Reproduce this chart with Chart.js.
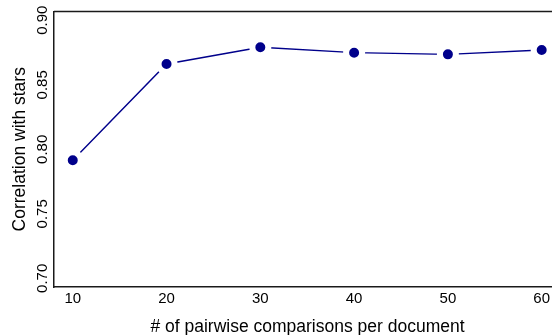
<!DOCTYPE html>
<html>
<head>
<meta charset="utf-8">
<script src="https://cdn.jsdelivr.net/npm/chart.js@4/dist/chart.umd.min.js"></script>
<style>
  html, body { margin: 0; padding: 0; background: #fff; }
  #wrap { width: 552px; height: 335px; position: relative; }
</style>
</head>
<body>
<div id="wrap"><canvas id="c" width="552" height="335"></canvas></div>
<script>
// Comparisons per document vs. correlation of the estimate with star ratings
const comparisons = [10, 20, 30, 40, 50, 60];
const correlation = [0.7915, 0.8661, 0.8791, 0.8749, 0.8736, 0.8770];
const xTickValues = [10, 20, 30, 40, 50, 60];
const yTickValues = [0.70, 0.75, 0.80, 0.85, 0.90];
const xTitle = '# of pairwise comparisons per document';
const yTitle = 'Correlation with stars';

const FONT = "'Liberation Sans', Arial, Helvetica, sans-serif";
const NAVY = '#00008b';
const AXIS = '#1a1a1a';

// Tick labels (y rotated), axis titles and the top frame line
const decorations = {
  id: 'decorations',
  afterDraw(chart) {
    const { ctx, chartArea: a, scales } = chart;
    const x = scales.x, y = scales.y;
    ctx.save();
    // top frame line
    ctx.strokeStyle = AXIS;
    ctx.lineWidth = 1.5;
    ctx.beginPath();
    ctx.moveTo(a.left, a.top);
    ctx.lineTo(chart.width, a.top);
    ctx.stroke();

    ctx.fillStyle = '#000';
    ctx.textAlign = 'center';
    ctx.textBaseline = 'middle';
    ctx.font = '15px ' + FONT;
    // y tick labels, reading bottom to top
    yTickValues.forEach(v => {
      const py = y.getPixelForValue(v);
      ctx.save();
      ctx.translate(a.left - 11, py);
      ctx.rotate(-Math.PI / 2);
      ctx.fillText(v.toFixed(2), 0, 0);
      ctx.restore();
    });
    // x tick labels
    xTickValues.forEach(v => {
      ctx.fillText(String(v), x.getPixelForValue(v), a.bottom + 12);
    });
    // y title
    ctx.font = '17.5px ' + FONT;
    ctx.save();
    ctx.translate(20, (a.top + a.bottom) / 2);
    ctx.rotate(-Math.PI / 2);
    ctx.fillText(yTitle, 0, 0);
    ctx.restore();
    // x title
    ctx.fillText(xTitle, 307.5, 327);
    ctx.restore();
  }
};

new Chart(document.getElementById('c'), {
  type: 'line',
  data: {
    datasets: [{
      data: comparisons.map((x, i) => ({ x, y: correlation[i] })),
      borderColor: NAVY,
      borderWidth: 1.4,
      pointRadius: 8,
      pointBorderWidth: 6,
      pointBorderColor: '#ffffff',
      pointBackgroundColor: NAVY,
      pointHoverRadius: 8,
      tension: 0,
      clip: false
    }]
  },
  options: {
    responsive: false,
    animation: false,
    events: [],
    layout: { autoPadding: false, padding: { top: 11.5, right: 0, left: 0, bottom: 0 } },
    plugins: { legend: { display: false }, tooltip: { enabled: false } },
    scales: {
      x: {
        type: 'linear',
        min: 8,
        max: 61.1,
        afterBuildTicks: s => { s.ticks = xTickValues.map(v => ({ value: v })); },
        afterFit: s => { s.height = 48; },
        grid: { display: false, drawTicks: false },
        border: { display: true, color: AXIS, width: 1.5 },
        ticks: { display: false }
      },
      y: {
        type: 'linear',
        min: 0.6933,
        max: 0.9068,
        afterBuildTicks: s => { s.ticks = yTickValues.map(v => ({ value: v })); },
        afterFit: s => { s.width = 54; },
        grid: { display: false, drawTicks: false },
        border: { display: true, color: AXIS, width: 1.5 },
        ticks: { display: false }
      }
    }
  },
  plugins: [decorations]
});
</script>
</body>
</html>
